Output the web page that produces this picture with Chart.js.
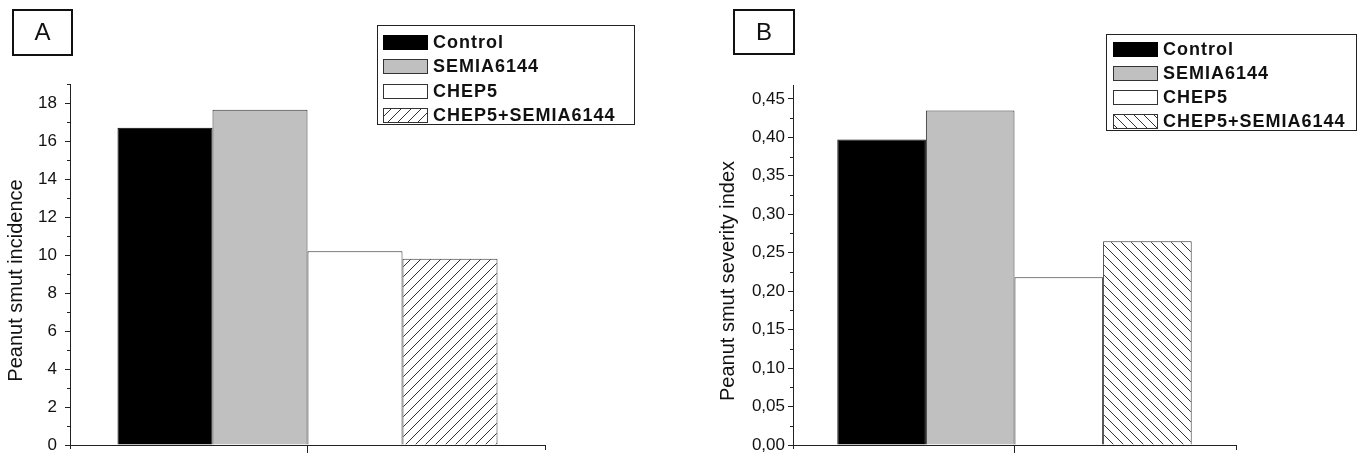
<!DOCTYPE html>
<html>
<head>
<meta charset="utf-8">
<script src="https://cdn.jsdelivr.net/npm/chart.js@4.4.1/dist/chart.umd.min.js"></script>
<style>
    html, body { margin: 0; padding: 0; background: #fff; }
    .wrap { display: flex; width: 1358px; height: 454px; }
    .panel { width: 679px; height: 454px; }
</style>
</head>
<body>
<div class="wrap">
    <div class="panel"><canvas id="chartA" width="679" height="454"></canvas></div>
    <div class="panel"><canvas id="chartB" width="679" height="454"></canvas></div>
</div>
<script>
// data
const seriesNames = ['Control', 'SEMIA6144', 'CHEP5', 'CHEP5+SEMIA6144'];
const incidenceValues = [16.7, 17.65, 10.2, 9.8];
const severityValues = [0.397, 0.435, 0.218, 0.265];
const incidenceAxis = { max: 19, step: 2 };
const severityAxis = { max: 0.468, step: 0.05 };

const fontFamily = 'Arial, "Liberation Sans", sans-serif';
const axisColor = '#222';
Chart.defaults.font.family = fontFamily;

// hatch fill, '/' or '\'
function hatch(dir) {
    const c = document.createElement('canvas');
    c.width = 10; c.height = 10;
    const g = c.getContext('2d');
    g.fillStyle = '#fff';
    g.fillRect(0, 0, 10, 10);
    g.strokeStyle = '#333';
    g.lineWidth = 1;
    g.beginPath();
    if (dir === '/') {
        g.moveTo(0, 10); g.lineTo(10, 0);
        g.moveTo(-5, 5); g.lineTo(5, -5);
        g.moveTo(5, 15); g.lineTo(15, 5);
    } else {
        g.moveTo(0, 0); g.lineTo(10, 10);
        g.moveTo(-5, 5); g.lineTo(5, 15);
        g.moveTo(5, -5); g.lineTo(15, 5);
    }
    g.stroke();
    return g.createPattern(c, 'repeat');
}

// minor ticks, axis title, panel letter and boxed legend
const extras = {
    id: 'extras',
    afterDraw(chart, args, o) {
        const ctx = chart.ctx;
        const area = chart.chartArea;
        const y = chart.scales.y;
        ctx.save();
        ctx.strokeStyle = axisColor;
        ctx.lineWidth = 1;
        ctx.beginPath();
        for (let v = o.step / 2; v <= y.max + 1e-9; v += o.step) {
            const py = Math.round(y.getPixelForValue(v)) + 0.5;
            ctx.moveTo(area.left - 3, py);
            ctx.lineTo(area.left, py);
        }
        ctx.moveTo(Math.round(area.right) + 0.5, area.bottom);
        ctx.lineTo(Math.round(area.right) + 0.5, area.bottom + 5);
        ctx.moveTo(Math.round(area.left) + 0.5, area.bottom);
        ctx.lineTo(Math.round(area.left) + 0.5, area.bottom + 4);
        ctx.stroke();

        // y title
        ctx.save();
        ctx.fillStyle = '#111';
        ctx.font = '20px ' + fontFamily;
        ctx.translate(o.titleX, (area.top + area.bottom) / 2 + o.titleShift);
        ctx.rotate(-Math.PI / 2);
        ctx.textAlign = 'center';
        ctx.textBaseline = 'middle';
        ctx.fillText(o.title, 0, 0);
        ctx.restore();

        // panel letter
        const lb = o.letterBox;
        ctx.lineWidth = 2;
        ctx.strokeStyle = '#111';
        ctx.strokeRect(lb.x, lb.y, lb.w, lb.h);
        ctx.fillStyle = '#111';
        ctx.font = '24px ' + fontFamily;
        ctx.textAlign = 'center';
        ctx.textBaseline = 'middle';
        ctx.fillText(o.letter, lb.x + lb.w / 2, lb.y + lb.h / 2 + 1);

        // legend
        const lg = o.legend;
        ctx.lineWidth = 1;
        ctx.strokeStyle = '#222';
        ctx.strokeRect(lg.x + 0.5, lg.y + 0.5, lg.w, lg.h);
        ctx.font = 'bold 18px ' + fontFamily;
        ctx.letterSpacing = '1px';
        ctx.textAlign = 'left';
        chart.data.datasets.forEach((ds, i) => {
            const cy = lg.firstRow + i * lg.rowH;
            ctx.fillStyle = ds.backgroundColor;
            ctx.fillRect(lg.swatchX, Math.round(cy - 7), 44, 14);
            ctx.strokeStyle = ds.borderColor;
            ctx.strokeRect(lg.swatchX + 0.5, Math.round(cy - 7) + 0.5, 44, 14);
            ctx.fillStyle = '#111';
            ctx.fillText(ds.label, lg.textX, cy + 1);
        });
        ctx.restore();
    }
};

function makeChart(id, values, axis, opts) {
    const fills = ['#000000', '#c0c0c0', '#ffffff', hatch(opts.hatchDir)];
    const borders = ['#000000', '#333333', '#333333', '#333333'];
    new Chart(document.getElementById(id), {
        type: 'bar',
        data: {
            labels: [''],
            datasets: seriesNames.map((name, i) => ({
                label: name,
                data: [values[i]],
                backgroundColor: fills[i],
                borderColor: borders[i],
                borderWidth: 1,
                barPercentage: 1,
                categoryPercentage: 0.8
            }))
        },
        options: {
            responsive: false,
            animation: false,
            layout: {
                padding: { left: 0, right: opts.padRight, top: opts.padTop, bottom: 0 }
            },
            plugins: {
                legend: { display: false },
                tooltip: { enabled: false },
                extras: {
                    step: axis.step,
                    title: opts.title,
                    titleX: opts.titleX,
                    titleShift: 16,
                    letter: opts.letter,
                    letterBox: opts.letterBox,
                    legend: opts.legend
                }
            },
            scales: {
                x: {
                    offset: true,
                    grid: { drawOnChartArea: false, offset: false, tickLength: 8, color: axisColor },
                    border: { color: axisColor, width: 1 },
                    ticks: { display: false },
                    afterFit: s => { s.height = 9; }
                },
                y: {
                    min: 0,
                    max: axis.max,
                    grid: { drawOnChartArea: false, tickLength: 5, color: axisColor },
                    border: { color: axisColor, width: 1 },
                    ticks: {
                        stepSize: axis.step,
                        includeBounds: false,
                        padding: opts.tickPad,
                        color: '#111',
                        font: { size: 17 },
                        callback: opts.tickFormat
                    },
                    afterFit: s => {
                        s.width = opts.axisLeft;
                        s.paddingTop = 0;     // keep plot box where the figure has it
                        s.paddingBottom = 0;
                    }
                }
            }
        },
        plugins: [extras]
    });
}

//-------------------------------------------------------- A incidence
makeChart('chartA', incidenceValues, incidenceAxis, {
    hatchDir: '/',
    axisLeft: 70,
    padRight: 134,
    padTop: 84,
    tickPad: 8,
    title: 'Peanut smut incidence',
    titleX: 16,
    letter: 'A',
    letterBox: { x: 13, y: 10, w: 59, h: 45 },
    legend: { x: 377, y: 25, w: 257, h: 99, firstRow: 42, rowH: 24.3, swatchX: 383, textX: 433 },
    tickFormat: v => String(v)
});

//-------------------------------------------------------- B severity
makeChart('chartB', severityValues, severityAxis, {
    hatchDir: '\\',
    axisLeft: 114,
    padRight: 122,
    padTop: 85,
    tickPad: 3,
    title: 'Peanut smut severity index',
    titleX: 49,
    letter: 'B',
    letterBox: { x: 55, y: 10, w: 60, h: 44 },
    legend: { x: 427, y: 34, w: 250, h: 96, firstRow: 49, rowH: 24, swatchX: 434, textX: 484 },
    tickFormat: v => v.toFixed(2).replace('.', ',')
});
</script>
</body>
</html>
